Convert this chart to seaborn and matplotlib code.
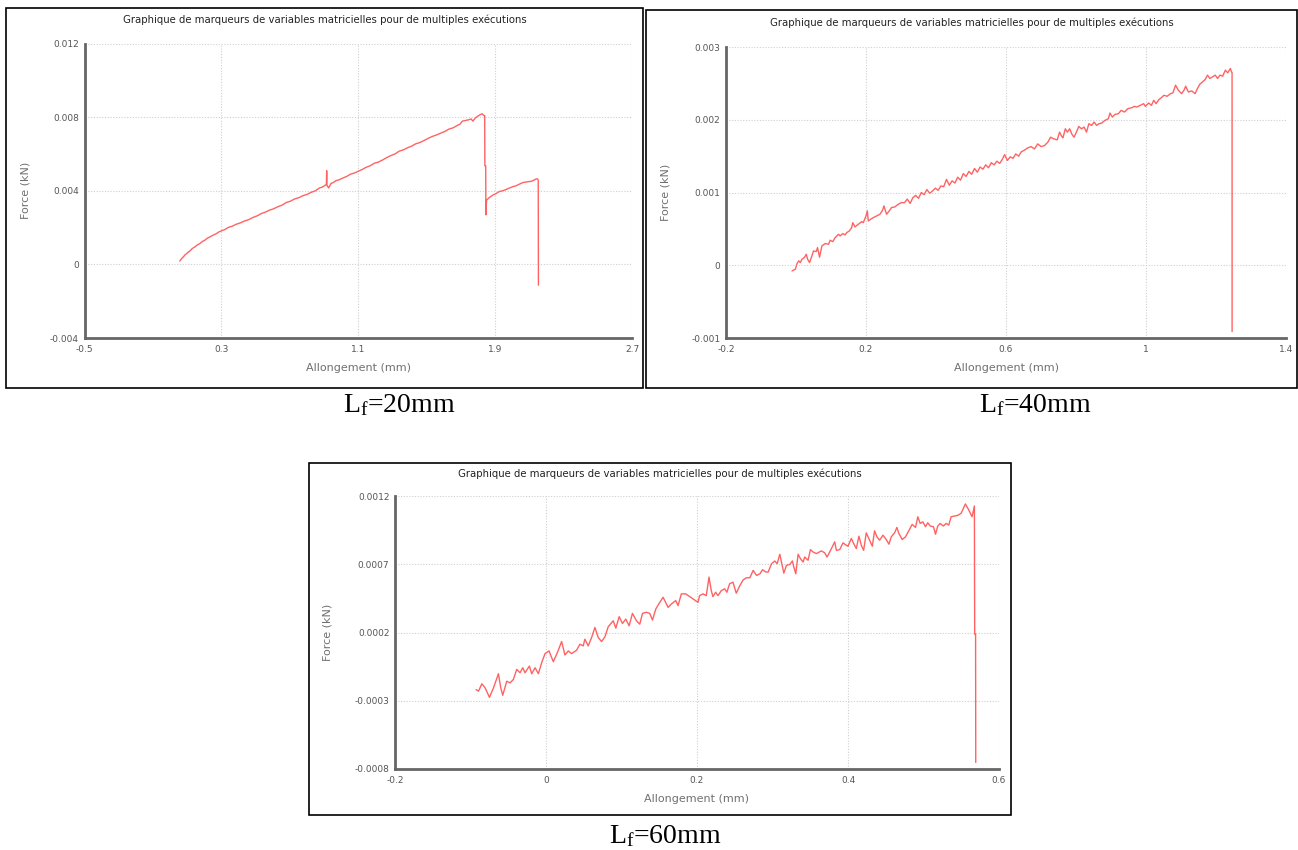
import matplotlib
matplotlib.use("Agg")
import matplotlib.pyplot as plt
from matplotlib.patches import Rectangle
import seaborn as sns

# ---------------------------------------------------------------- data
TITLE = "Graphique de marqueurs de variables matricielles pour de multiples exécutions"
XLABEL = "Allongement (mm)"
YLABEL = "Force (kN)"

# Lf = 20 mm
allong_20 = [0.057, 0.068, 0.077, 0.088, 0.096, 0.108, 0.116, 0.130, 0.145, 0.160,
             0.174, 0.190, 0.203, 0.218, 0.232, 0.250, 0.271, 0.285, 0.300, 0.320,
             0.339, 0.362, 0.387, 0.410, 0.436, 0.460, 0.485, 0.510, 0.533, 0.558,
             0.582, 0.605, 0.630, 0.655, 0.679, 0.703, 0.727, 0.752, 0.776, 0.800,
             0.824, 0.850, 0.873, 0.890, 0.902, 0.912, 0.914, 0.9155, 0.917, 0.927,
             0.941, 0.955, 0.970, 0.990, 1.009, 1.033, 1.057, 1.080, 1.100, 1.122,
             1.145, 1.170, 1.193, 1.218, 1.242, 1.266, 1.290, 1.315, 1.339, 1.363,
             1.387, 1.411, 1.436, 1.460, 1.485, 1.509, 1.533, 1.557, 1.582, 1.606,
             1.630, 1.655, 1.679, 1.695, 1.708, 1.728, 1.747, 1.760, 1.770, 1.785,
             1.800, 1.815, 1.825, 1.834, 1.839, 1.840, 1.845, 1.846, 1.850, 1.867,
             1.886, 1.906, 1.925, 1.945, 1.964, 1.984, 2.003, 2.022, 2.042, 2.061,
             2.090, 2.110, 2.129, 2.139, 2.149, 2.152, 2.153]
force_20 = [0.00018, 0.00032, 0.00040, 0.00052, 0.00058, 0.00068, 0.00073, 0.00086, 0.00095, 0.00106,
            0.00113, 0.00125, 0.00131, 0.00142, 0.00149, 0.00158, 0.00167, 0.00176, 0.00182, 0.00189,
            0.00200, 0.00207, 0.00218, 0.00225, 0.00236, 0.00243, 0.00255, 0.00264, 0.00276, 0.00284,
            0.00295, 0.00302, 0.00313, 0.00322, 0.00336, 0.00343, 0.00355, 0.00362, 0.00373, 0.00380,
            0.00391, 0.00400, 0.00415, 0.00420, 0.00427, 0.00433, 0.00442, 0.00509, 0.00430, 0.00415,
            0.00440, 0.00445, 0.00455, 0.00460, 0.00469, 0.00478, 0.00491, 0.00497, 0.00506, 0.00515,
            0.00527, 0.00536, 0.00549, 0.00556, 0.00567, 0.00580, 0.00591, 0.00600, 0.00615, 0.00622,
            0.00633, 0.00642, 0.00655, 0.00662, 0.00673, 0.00685, 0.00695, 0.00703, 0.00713, 0.00722,
            0.00735, 0.00742, 0.00755, 0.00762, 0.00778, 0.00782, 0.00786, 0.00790, 0.00778, 0.00796,
            0.00806, 0.00815, 0.00818, 0.00809, 0.00808, 0.00536, 0.00536, 0.00269, 0.00349, 0.00364,
            0.00376, 0.00385, 0.00396, 0.00400, 0.00407, 0.00415, 0.00422, 0.00427, 0.00436, 0.00444,
            0.00449, 0.00451, 0.00458, 0.00464, 0.00464, 0.00455, -0.00113]

# Lf = 40 mm
allong_40 = [-0.0114, -0.0019, 0.0028, 0.0076, 0.0123, 0.0171, 0.0237, 0.0294, 0.0332, 0.0389,
             0.0455, 0.0502, 0.0578, 0.0616, 0.0673, 0.0739, 0.0834, 0.0929, 0.0976, 0.1052,
             0.1118, 0.1213, 0.1261, 0.1336, 0.1403, 0.1450, 0.1526, 0.1592, 0.1621, 0.1687,
             0.1754, 0.1810, 0.1877, 0.1924, 0.2000, 0.2038, 0.2066, 0.2133, 0.2209, 0.2303,
             0.2398, 0.2474, 0.2512, 0.2588, 0.2664, 0.2730, 0.2825, 0.2919, 0.3014,
             0.310, 0.318, 0.326, 0.334, 0.342, 0.350, 0.358, 0.366, 0.374, 0.382,
             0.390, 0.398, 0.406, 0.414, 0.422, 0.430, 0.438, 0.446, 0.454, 0.462,
             0.470, 0.478, 0.486, 0.494, 0.502, 0.510, 0.518, 0.526, 0.534, 0.542,
             0.550, 0.558, 0.566, 0.574, 0.582, 0.590, 0.596, 0.604, 0.612, 0.620,
             0.628, 0.636, 0.644, 0.652,
             0.6619, 0.6715, 0.6811, 0.6907, 0.7003, 0.7099, 0.7195, 0.7272, 0.7368, 0.7464,
             0.7531, 0.7579, 0.7627, 0.7695, 0.7752, 0.7819, 0.7887, 0.7944, 0.8012, 0.8079,
             0.8156, 0.8232, 0.8300, 0.8367, 0.8444, 0.8521, 0.8588, 0.8655, 0.8732, 0.8828,
             0.8924, 0.8972, 0.9039, 0.9116, 0.9212, 0.9289, 0.9385, 0.9481, 0.9597, 0.9673,
             0.9741, 0.9837, 0.9933, 0.9981, 1.0077, 1.0154, 1.0221, 1.0288, 1.0365, 1.0442,
             1.0509, 1.0605, 1.0701, 1.0768, 1.0845, 1.0922, 1.1018, 1.1085, 1.1134, 1.1210,
             1.1306, 1.1403, 1.1470, 1.1537, 1.1614, 1.1691, 1.1758, 1.1825, 1.1902, 1.1979,
             1.2046, 1.2113, 1.2190, 1.2267, 1.2334, 1.2411, 1.2440, 1.2459, 1.2460]
force_40 = [-0.000078, -0.000055, 0.000023, 0.000060, 0.000037, 0.000082, 0.000105, 0.000151, 0.000082, 0.000037,
            0.000128, 0.000197, 0.000188, 0.000243, 0.000110, 0.000266, 0.000298, 0.000289, 0.000344, 0.000325,
            0.000380, 0.000426, 0.000403, 0.000435, 0.000417, 0.000449, 0.000472, 0.000518, 0.000586, 0.000527,
            0.000554, 0.000573, 0.000600, 0.000586, 0.000678, 0.000747, 0.000609, 0.000632, 0.000655, 0.000678,
            0.000701, 0.000756, 0.000816, 0.000701, 0.000747, 0.000793, 0.000802, 0.000838, 0.000861,
            0.00086, 0.00091, 0.00085, 0.00093, 0.00096, 0.00092, 0.00100, 0.00097, 0.00104, 0.00099,
            0.00102, 0.00106, 0.00103, 0.00109, 0.00108, 0.00118, 0.00110, 0.00116, 0.00113, 0.00121,
            0.00117, 0.00126, 0.00122, 0.00129, 0.00125, 0.00133, 0.00128, 0.00135, 0.00132, 0.00138,
            0.00134, 0.00141, 0.00138, 0.00143, 0.00140, 0.00146, 0.00152, 0.00144, 0.00149, 0.00147,
            0.00153, 0.00150, 0.00156, 0.00158,
            0.001613, 0.001631, 0.001599, 0.001668, 0.001631, 0.001645, 0.001691, 0.001760, 0.001737, 0.001724,
            0.001830, 0.001783, 0.001751, 0.001876, 0.001830, 0.001876, 0.001797, 0.001760, 0.001830, 0.001908,
            0.001876, 0.001899, 0.001830, 0.001945, 0.001922, 0.001968, 0.001922, 0.001945, 0.001954, 0.001991,
            0.002014, 0.002092, 0.002037, 0.002074, 0.002083, 0.002129, 0.002106, 0.002152, 0.002166, 0.002184,
            0.002175, 0.002198, 0.002221, 0.002184, 0.002230, 0.002198, 0.002267, 0.002221, 0.002276, 0.002304,
            0.002336, 0.002323, 0.002359, 0.002369, 0.002475, 0.002406, 0.002359, 0.002406, 0.002461, 0.002382,
            0.002396, 0.002359, 0.002429, 0.002488, 0.002521, 0.002553, 0.002613, 0.002567, 0.002590, 0.002613,
            0.002567, 0.002613, 0.002599, 0.002682, 0.002645, 0.002705, 0.002659, 0.002650, -0.000910]

# Lf = 60 mm
allong_60 = [-0.0925, -0.0894, -0.0850, -0.0806, -0.0749, -0.0696, -0.0630, -0.0599, -0.0573, -0.0520,
             -0.0476, -0.0432, -0.0388, -0.0344, -0.0308, -0.0278, -0.0220, -0.0189, -0.0145, -0.0101,
             -0.0057, -0.0013, 0.0040, 0.0097, 0.0150, 0.0207, 0.0251, 0.0295, 0.0339, 0.0405,
             0.0449, 0.0493, 0.0515, 0.0559, 0.0604, 0.0648, 0.0692, 0.0736, 0.0780, 0.0824,
             0.0890, 0.0925, 0.0969, 0.1013, 0.1057, 0.1101, 0.1145, 0.1198, 0.1242, 0.1278,
             0.1330, 0.1374, 0.1410, 0.1454, 0.1507, 0.1551, 0.1617, 0.1661, 0.1718, 0.1749,
             0.1793, 0.1850, 0.1903, 0.1969, 0.2013, 0.2035, 0.2079, 0.2123, 0.2159, 0.2189,
             0.2211, 0.2247, 0.2278, 0.2322, 0.2366, 0.2396, 0.2432, 0.2476, 0.2520,
             0.2568, 0.2612, 0.2656, 0.2700, 0.2744, 0.2789, 0.2833, 0.2868, 0.2912, 0.2943,
             0.2987, 0.3031, 0.3062, 0.3097, 0.3119, 0.3150, 0.3185, 0.3229, 0.3264, 0.3282,
             0.3308, 0.3339, 0.3370, 0.3405, 0.3427, 0.3471, 0.3502, 0.3537, 0.3581, 0.3648,
             0.3692, 0.3722, 0.3758, 0.3824, 0.3846, 0.3890, 0.3934, 0.3978, 0.4000, 0.4044,
             0.4075, 0.4110, 0.4145, 0.4176, 0.4207, 0.4242, 0.4286, 0.4322, 0.4352, 0.4383,
             0.4419, 0.4463, 0.4507, 0.4542, 0.4573, 0.4617, 0.4648, 0.4674, 0.4718, 0.4762,
             0.4815, 0.4850, 0.4894, 0.4925, 0.4956, 0.4991, 0.5026, 0.5057, 0.5088, 0.5132,
             0.5159, 0.5189, 0.5220, 0.5264, 0.5300, 0.5335, 0.5366, 0.5410, 0.5454, 0.5498,
             0.5555, 0.5599, 0.5643, 0.5674, 0.5678, 0.5690, 0.5692]
force_60 = [-0.000218, -0.000230, -0.000176, -0.000206, -0.000275, -0.000206, -0.000102, -0.000206, -0.000260, -0.000157,
            -0.000169, -0.000144, -0.000070, -0.000095, -0.000058, -0.000095, -0.000046, -0.000102, -0.000058, -0.000102,
            -0.000021, 0.000045, 0.000065, -0.000014, 0.000052, 0.000134, 0.000035, 0.000065, 0.000045, 0.000070,
            0.000114, 0.000102, 0.000151, 0.000102, 0.000163, 0.000237, 0.000163, 0.000134, 0.000168, 0.000242,
            0.000286, 0.000232, 0.000316, 0.000266, 0.000298, 0.000249, 0.000340, 0.000286, 0.000261, 0.000340,
            0.000348, 0.000340, 0.000291, 0.000372, 0.000421, 0.000458, 0.000384, 0.000409, 0.000434, 0.000397,
            0.000483, 0.000483, 0.000463, 0.000439, 0.000421, 0.000470, 0.000483, 0.000470, 0.000606, 0.000507,
            0.000463, 0.000495, 0.000470, 0.000507, 0.000520, 0.000495, 0.000557, 0.000569, 0.000488,
            0.000544, 0.000586, 0.000601, 0.000601, 0.000655, 0.000618, 0.000630, 0.000660, 0.000643, 0.000643,
            0.000704, 0.000724, 0.000704, 0.000773, 0.000716, 0.000635, 0.000692, 0.000699, 0.000724, 0.000680,
            0.000630, 0.000773, 0.000741, 0.000716, 0.000753, 0.000729, 0.000807, 0.000790, 0.000778, 0.000798,
            0.000783, 0.000753, 0.000790, 0.000864, 0.000802, 0.000807, 0.000857, 0.000839, 0.000832, 0.000889,
            0.000852, 0.000815, 0.000906, 0.000839, 0.000802, 0.000930, 0.000876, 0.000832, 0.000945, 0.000901,
            0.000876, 0.000913, 0.000881, 0.000847, 0.000901, 0.000930, 0.000970, 0.000925, 0.000881, 0.000901,
            0.000955, 0.000992, 0.000970, 0.001048, 0.000999, 0.001011, 0.000975, 0.001004, 0.000980, 0.000975,
            0.000920, 0.000980, 0.000999, 0.000980, 0.000999, 0.000987, 0.001048, 0.001053, 0.001058, 0.001073,
            0.001142, 0.001098, 0.001048, 0.001127, 0.000188, 0.000188, -0.000752]

panels = [
    dict(x=allong_20, y=force_20, caption="20mm",
         xlim=(-0.5, 2.7), xticks=[-0.5, 0.3, 1.1, 1.9, 2.7], xtl=["-0.5", "0.3", "1.1", "1.9", "2.7"],
         ylim=(-0.004, 0.012), yticks=[-0.004, 0, 0.004, 0.008, 0.012],
         ytl=["-0.004", "0", "0.004", "0.008", "0.012"]),
    dict(x=allong_40, y=force_40, caption="40mm",
         xlim=(-0.2, 1.4), xticks=[-0.2, 0.2, 0.6, 1.0, 1.4], xtl=["-0.2", "0.2", "0.6", "1", "1.4"],
         ylim=(-0.001, 0.003), yticks=[-0.001, 0, 0.001, 0.002, 0.003],
         ytl=["-0.001", "0", "0.001", "0.002", "0.003"]),
    dict(x=allong_60, y=force_60, caption="60mm",
         xlim=(-0.2, 0.6), xticks=[-0.2, 0, 0.2, 0.4, 0.6], xtl=["-0.2", "0", "0.2", "0.4", "0.6"],
         ylim=(-0.0008, 0.0012), yticks=[-0.0008, -0.0003, 0.0002, 0.0007, 0.0012],
         ytl=["-0.0008", "-0.0003", "0.0002", "0.0007", "0.0012"]),
]

# ---------------------------------------------------------------- layout (pixels)
W, H = 1298, 850
# axes box and outer frame: left, top, right, bottom
axes_px = [(84.5, 43.5, 632, 338), (726, 47, 1286, 338), (395, 496, 999, 769)]
frame_px = [(6, 8, 643, 388), (646, 10, 1297, 388), (309, 463, 1011, 815)]
title_y = [20, 23, 474]
caption_pos = [(399, 405), (1035, 405), (665, 836)]

sns.set_style("white")
plt.rcParams["font.family"] = ["DejaVu Sans"]
plt.rcParams["mathtext.fontset"] = "custom"
plt.rcParams["mathtext.rm"] = "Liberation Serif"
plt.rcParams["mathtext.it"] = "Liberation Serif:italic"

fig = plt.figure(figsize=(W / 100, H / 100), dpi=100)
fig.patch.set_facecolor("white")


def fx(px):
    return px / W


def fy(py):
    return 1 - py / H


LINE = "#ff5a5a"
SPINE = "#666666"
TICK = "#555555"
LABEL = "#707070"

for p, (l, t, r, b), (fl, ft, fr, fb), ty, (cx, cy) in zip(
        panels, axes_px, frame_px, title_y, caption_pos):
    # outer frame around each chart
    fig.patches.append(Rectangle((fx(fl), fy(fb)), fx(fr - fl), (fb - ft) / H,
                                 transform=fig.transFigure, fill=False,
                                 edgecolor="black", linewidth=1.2))
    ax = fig.add_axes([fx(l), fy(b), fx(r - l), (b - t) / H])
    sns.lineplot(x=p["x"], y=p["y"], ax=ax, color=LINE, linewidth=1.0,
                 sort=False, estimator=None, alpha=0.95)
    ax.set_xlim(*p["xlim"])
    ax.set_ylim(*p["ylim"])
    ax.set_xticks(p["xticks"])
    ax.set_xticklabels(p["xtl"])
    ax.set_yticks(p["yticks"])
    ax.set_yticklabels(p["ytl"])
    ax.grid(True, color="#cfcfcf", linestyle=(0, (1, 1.5)), linewidth=0.8)
    for s in ("top", "right"):
        ax.spines[s].set_visible(False)
    for s in ("left", "bottom"):
        ax.spines[s].set_color(SPINE)
        ax.spines[s].set_linewidth(2.0)
    ax.tick_params(axis="both", length=0, labelsize=6.5, labelcolor=TICK)
    ax.tick_params(axis="x", pad=5)
    ax.tick_params(axis="y", pad=4)
    ax.set_xlabel("")
    ax.set_ylabel("")
    # axis titles
    fig.text(fx((l + r) / 2), fy(b + 30), XLABEL, ha="center", va="center",
             fontsize=8, color=LABEL)
    fig.text(fx(fl + 19), fy((t + b) / 2), YLABEL, ha="center", va="center",
             rotation=90, fontsize=8, color=LABEL)
    # chart title
    fig.text(fx((fl + fr) / 2), fy(ty), TITLE, ha="center", va="center",
             fontsize=7.3, color="#222222")
    # caption under the chart
    fig.text(fx(cx), fy(cy), r"L$_\mathrm{f}$=" + p["caption"], ha="center", va="center",
             fontsize=20, color="black", family="Liberation Serif")

fig.savefig("out.png", dpi=100, facecolor="white")
